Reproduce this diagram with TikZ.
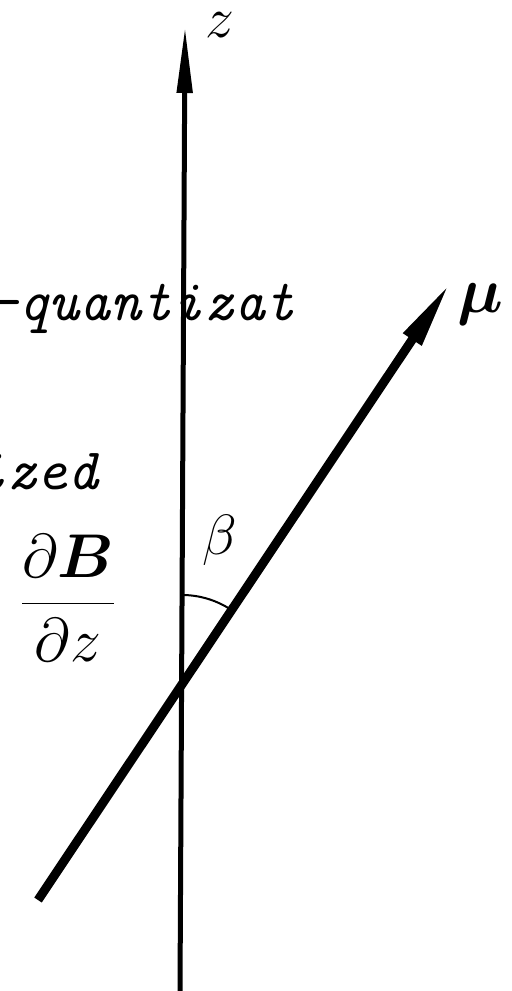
\RequirePackage{fix-cm}
\documentclass[tikz,border=0pt]{standalone}
\usepackage{amsmath}
\usetikzlibrary{arrows.meta}
\begin{document}
\begin{tikzpicture}[x=1bp,y=-1bp]
\tikzset{
  axisline/.style={line width=5bp, -{Triangle[length=66bp,width=15bp]}},
  muline/.style={line width=9bp, -{Triangle[length=68bp,width=20bp]}},
  anglearc/.style={line width=2bp},
  lbl/.style={inner sep=0pt},
  txt/.style={inner sep=0pt, anchor=base west, font=\fontsize{59}{62}\selectfont\ttfamily\itshape}
}
\useasboundingbox (0,0) rectangle (512,991);
\clip (0,0) rectangle (512,991);
\coordinate (zb) at (180,991);
\coordinate (zt) at (185,27);
\coordinate (mb) at (38,900);
\coordinate (mt) at (450,283);
\coordinate (o) at (182,684);
\draw[axisline] (zb) -- (zt);
\draw[muline] (mb) -- (mt);
\draw[anglearc] (182,595) arc[start angle=-90, end angle=-56.3, radius=89];
\node[txt] (q) at (-13,320) {-quantizat};
\node[txt] (iz) at (-25,489) {ized};
\node[lbl, font=\fontsize{58}{62}\selectfont] (z) at (220,25) {$z$};
\node[lbl, font=\fontsize{65}{70}\selectfont] (mu) at (480,304) {$\boldsymbol{\mu}$};
\node[lbl, font=\fontsize{57}{60}\selectfont] (beta) at (220,540) {$\beta$};
\node[lbl, font=\fontsize{62}{66}\selectfont] (frac) at (68,598) {$\displaystyle\frac{\partial\boldsymbol{B}}{\partial z}$};
\end{tikzpicture}
\end{document}
